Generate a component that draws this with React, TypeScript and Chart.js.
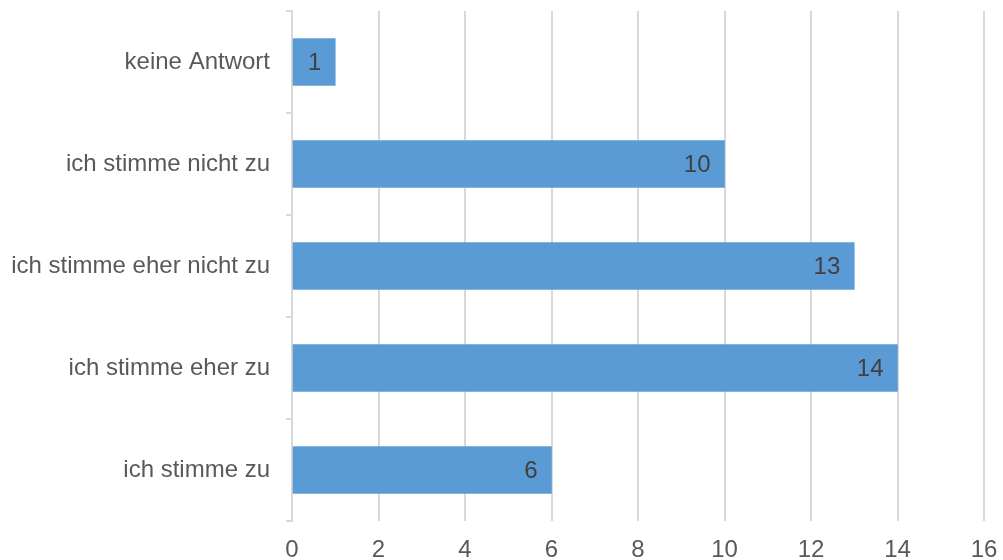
import React, { useEffect, useRef } from "react";
import { Chart, registerables } from "chart.js";

Chart.register(...registerables);

const categories = [
  "keine Antwort",
  "ich stimme nicht zu",
  "ich stimme eher nicht zu",
  "ich stimme eher zu",
  "ich stimme zu",
];
const values = [1, 10, 13, 14, 6];
const xMin = 0;
const xMax = 16;
const xStep = 2;

const FONT = "'Liberation Sans', Arial, sans-serif";

const labelPlugin = {
  id: "barLabels",
  afterDatasetsDraw(chart: any) {
    const ctx = chart.ctx;
    const meta = chart.getDatasetMeta(0);
    ctx.save();
    ctx.font = `24px ${FONT}`;
    ctx.fillStyle = "#404040";
    ctx.textBaseline = "middle";
    meta.data.forEach((bar: any, i: number) => {
      const v = chart.data.datasets[0].data[i];
      const txt = String(v);
      const w = ctx.measureText(txt).width;
      const barW = bar.x - bar.base;
      if (barW < w + 24) {
        ctx.textAlign = "center";
        ctx.fillText(txt, (bar.x + bar.base) / 2, bar.y + 1);
      } else {
        ctx.textAlign = "right";
        ctx.fillText(txt, bar.x - 14, bar.y + 1);
      }
    });
    ctx.restore();
  },
};

export default function App() {
  const ref = useRef<HTMLCanvasElement>(null);
  useEffect(() => {
    document.body.style.margin = "0";
    const chart = new Chart(ref.current!, {
      type: "bar",
      data: {
        labels: categories,
        datasets: [
          {
            data: values,
            backgroundColor: "#5B9BD5",
            barThickness: 47,
          },
        ],
      },
      options: {
        indexAxis: "y",
        animation: false,
        responsive: false,
        maintainAspectRatio: false,
        layout: { padding: { top: 11, right: 19, bottom: 0, left: 0 } },
        plugins: { legend: { display: false }, tooltip: { enabled: false } },
        scales: {
          x: {
            min: xMin,
            max: xMax,
            border: { display: false },
            grid: { color: "#d9d9d9", lineWidth: 2, drawTicks: false, tickLength: 0 },
            ticks: {
              stepSize: xStep,
              color: "#595959",
              font: { family: FONT, size: 24 },
              padding: 15,
              maxRotation: 0,
            },
            afterFit(scale: any) {
              scale.height = 39;
              scale.paddingLeft = 0;
              scale.paddingRight = 0;
            },
          },
          y: {
            border: { display: true, color: "#d9d9d9", width: 2 },
            grid: {
              offset: true,
              drawOnChartArea: false,
              color: "#d9d9d9",
              lineWidth: 2,
              tickLength: 6,
            },
            ticks: {
              color: "#595959",
              font: { family: FONT, size: 24 },
              padding: 16,
            },
            afterFit(scale: any) {
              scale.width = 292;
              scale.paddingTop = 0;
              scale.paddingBottom = 0;
            },
          },
        },
      },
      plugins: [labelPlugin],
    });
    return () => chart.destroy();
  }, []);
  return (
    <div style={{ position: "absolute", left: 0, top: 0, width: 1003, height: 560 }}>
      <canvas ref={ref} width={1003} height={560} />
    </div>
  );
}
